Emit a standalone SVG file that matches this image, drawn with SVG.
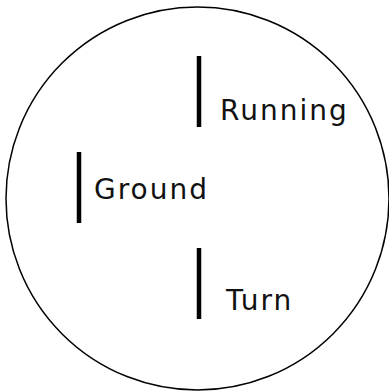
<svg xmlns="http://www.w3.org/2000/svg" width="389" height="392" viewBox="0 0 389 392">
<style>
.bar{stroke:#000;stroke-width:4.5;fill:none}
.lbl{font-family:"DejaVu Sans","Liberation Sans",sans-serif;font-size:28px;fill:#111;letter-spacing:2px}
</style>
<rect width="389" height="392" fill="#fff"/>
<g id="outline"><circle cx="197.5" cy="198.5" r="191.5" fill="none" stroke="#000" stroke-width="1.5"/></g>
<g id="running"><line class="bar" x1="199" y1="56" x2="199" y2="127"/><text class="lbl" x="220" y="120">Running</text></g>
<g id="ground"><line class="bar" x1="79" y1="152" x2="79" y2="223"/><text class="lbl" x="94" y="199">Ground</text></g>
<g id="turn"><line class="bar" x1="199" y1="248" x2="199" y2="319"/><text class="lbl" x="226" y="310">Turn</text></g>
<g id="connectors"/>
</svg>
